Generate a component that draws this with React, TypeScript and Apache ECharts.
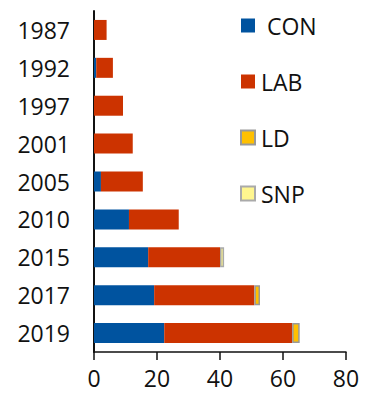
import React, { useEffect, useRef } from "react";
import * as echarts from "echarts";

const years = ["1987", "1992", "1997", "2001", "2005", "2010", "2015", "2017", "2019"];
const con = [0, 0.7, 0, 0, 2.2, 11.1, 17.2, 19.1, 22.3];
const lab = [4, 5.3, 9.2, 12.3, 13.3, 15.8, 22.8, 31.8, 40.6];
const ld = [0, 0, 0, 0, 0, 0, 0, 1.8, 2.4];
const snp = [0, 0, 0, 0, 0, 0, 1.3, 0, 0];
const xTicks = [0, 20, 40, 60, 80];

const FONT = "'Open Sans', 'Noto Sans', sans-serif";
const nz = (arr: number[]) => arr.map((v) => (v === 0 ? null : v));

export default function App() {
  const ref = useRef<HTMLDivElement>(null);
  useEffect(() => {
    if (!ref.current) return;
    const chart = echarts.init(ref.current, null, { renderer: "svg" });
    const barW = 20;
    chart.setOption({
      animation: false,
      textStyle: { fontFamily: FONT },
      grid: { left: 94, right: 29, top: 11, bottom: 44, containLabel: false },
      legend: {
        orient: "vertical",
        left: 235,
        top: 9,
        icon: "rect",
        itemWidth: 14,
        itemHeight: 14,
        itemGap: 33,
        formatter: (n: string) => (n === "CON" ? " CON" : n),
        textStyle: { fontSize: 23, color: "#111", fontFamily: FONT, padding: [0, 0, 0, 1] },
        data: ["CON", "LAB", "LD", "SNP"],
      },
      xAxis: {
        type: "value",
        min: xTicks[0],
        max: xTicks[xTicks.length - 1],
        interval: 20,
        splitLine: { show: false },
        axisLine: { show: true, lineStyle: { color: "#111", width: 1.5 } },
        axisTick: { show: true, length: 8, lineStyle: { color: "#111", width: 1.5 } },
        axisLabel: { fontSize: 23, color: "#111", margin: 14, fontFamily: FONT },
      },
      yAxis: {
        type: "category",
        inverse: true,
        data: years,
        axisLine: { show: true, lineStyle: { color: "#111", width: 2 } },
        axisTick: { show: false },
        axisLabel: { fontSize: 23, color: "#111", margin: 24, fontFamily: FONT },
      },
      series: [
        { name: "CON", type: "bar", stack: "t", data: nz(con), barWidth: barW, itemStyle: { color: "#00539f" } },
        { name: "LAB", type: "bar", stack: "t", data: nz(lab), barWidth: barW, itemStyle: { color: "#cc3300" } },
        { name: "LD", type: "bar", stack: "t", data: nz(ld), barWidth: barW, itemStyle: { color: "#ffc000", borderColor: "#999999", borderWidth: 1.5 } },
        { name: "SNP", type: "bar", stack: "t", data: nz(snp), barWidth: barW, itemStyle: { color: "#fff68f", borderColor: "#aaaaaa", borderWidth: 1.5 } },
      ],
    });
    return () => chart.dispose();
  }, []);
  return <div ref={ref} style={{ width: 375, height: 396, margin: -8 }} />;
}
